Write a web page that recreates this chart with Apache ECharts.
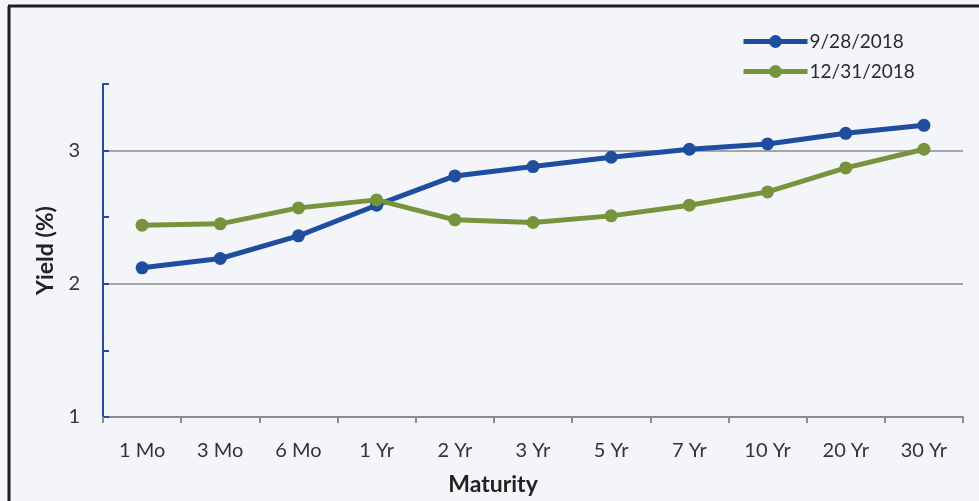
<!DOCTYPE html>
<html>
<head>
<meta charset="utf-8">
<script src="https://cdn.jsdelivr.net/npm/echarts@6/dist/echarts.min.js"></script>
<style>
  html, body { margin: 0; padding: 0; background: #f3f5f8; }
  #chart { width: 979px; height: 501px; }
</style>
</head>
<body>
<div id="chart"></div>
<script>
// Treasury yield curve: maturities and yields (%) on two dates
const maturities = ['1 Mo', '3 Mo', '6 Mo', '1 Yr', '2 Yr', '3 Yr', '5 Yr', '7 Yr', '10 Yr', '20 Yr', '30 Yr'];
const yieldsSep2018 = [2.12, 2.19, 2.36, 2.59, 2.81, 2.88, 2.95, 3.01, 3.05, 3.13, 3.19];
const yieldsDec2018 = [2.44, 2.45, 2.57, 2.63, 2.48, 2.46, 2.51, 2.59, 2.69, 2.87, 3.01];
const seriesNames = ['9/28/2018', '12/31/2018'];
const yTicks = { min: 1, max: 3.5, step: 0.5 };

const FONT = 'Lato, "Open Sans", sans-serif';
const BLUE = '#1f4e9e';
const GREEN = '#77933c';

const chart = echarts.init(document.getElementById('chart'));

function lineSeries(name, data, color) {
  return {
    name: name,
    type: 'line',
    data: data,
    symbol: 'circle',
    symbolSize: 13,
    lineStyle: { color: color, width: 5 },
    itemStyle: { color: color },
    z: 3
  };
}

chart.setOption({
  backgroundColor: '#f3f5f8',
  animation: false,
  textStyle: { fontFamily: FONT },
  grid: { left: 103, right: 16, top: 84, bottom: 81, containLabel: false },
  legend: {
    orient: 'vertical',
    left: 736,
    top: 27,
    itemWidth: 64,
    itemHeight: 16,
    itemGap: 11,
    data: seriesNames,
    lineStyle: { width: 5 },
    textStyle: { fontFamily: FONT, fontSize: 19, color: '#2b2b2b', padding: [0, 0, 0, -3] }
  },
  xAxis: {
    type: 'category',
    data: maturities,
    boundaryGap: true,
    name: 'Maturity',
    nameLocation: 'middle',
    nameGap: 56,
    nameTextStyle: { fontFamily: FONT, fontSize: 23, fontWeight: 'bold', color: '#222', padding: [0, 80, 0, 0] },
    axisLine: { lineStyle: { color: '#8c8c8c', width: 2 } },
    axisTick: { show: true, alignWithLabel: false, length: 6, lineStyle: { color: '#8c8c8c', width: 2 } },
    axisLabel: { fontFamily: FONT, fontSize: 20, color: '#333', margin: 24 },
    splitLine: { show: false }
  },
  yAxis: {
    type: 'value',
    min: yTicks.min,
    max: yTicks.max,
    interval: yTicks.step,
    name: 'Yield (%)',
    nameLocation: 'middle',
    nameGap: 46,
    nameRotate: 90,
    nameTextStyle: { fontFamily: FONT, fontSize: 23, fontWeight: 'bold', color: '#222' },
    axisLine: { show: true, lineStyle: { color: '#2a4b9a', width: 2 } },
    axisTick: { show: true, inside: true, length: 6, lineStyle: { color: '#2a4b9a', width: 2 } },
    axisLabel: {
      fontFamily: FONT, fontSize: 20, color: '#333', margin: 23,
      formatter: v => (Number.isInteger(v) ? String(v) : '')
    },
    splitLine: {
      show: true,
      lineStyle: { color: ['transparent', 'transparent', '#a3a6ab', 'transparent', '#a3a6ab', 'transparent'], width: 2 }
    }
  },
  graphic: [
    { type: 'line', shape: { x1: 9, y1: 6, x2: 9, y2: 501 }, style: { stroke: '#1e1e1e', lineWidth: 3 }, z: 10 },
    { type: 'line', shape: { x1: 8, y1: 6, x2: 979, y2: 6 }, style: { stroke: '#1e1e1e', lineWidth: 3 }, z: 10 }
  ],
  series: [
    lineSeries(seriesNames[0], yieldsSep2018, BLUE),
    lineSeries(seriesNames[1], yieldsDec2018, GREEN)
  ]
});
</script>
</body>
</html>
